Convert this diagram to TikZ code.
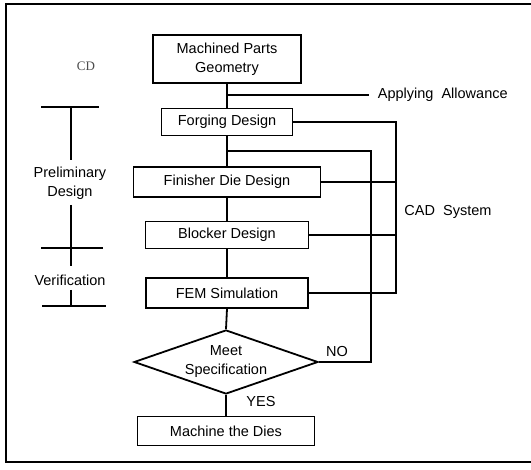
\documentclass[tikz,border=0pt]{standalone}
\usepackage{fontspec}
\setmainfont{Liberation Sans}
\newfontfamily\cdfont{Liberation Serif}
\usetikzlibrary{shapes.geometric}
\begin{document}
\begin{tikzpicture}[x=1pt,y=-1pt,
  line width=1.8pt,
  every node/.style={font=\fontsize{14.5}{19}\selectfont, inner sep=1pt},
  box/.style={draw, rectangle, align=center, line width=1.8pt},
  lbl/.style={align=center},
  dec/.style={draw, diamond, align=center, aspect=2.9, inner sep=0pt, line width=1.8pt}]
\useasboundingbox (0,0) rectangle (531,470);
% frame
\draw (531,4) -- (6,4) -- (6,462) -- (531,462);
% main boxes
\node[box, minimum width=148pt, minimum height=48pt] (mpg) at (227,59) {Machined Parts\\Geometry};
\node[box, minimum width=131pt, minimum height=27pt] (forg) at (227,122) {Forging Design};
\node[box, minimum width=187pt, minimum height=30pt] (fin) at (227,182) {Finisher Die Design};
\node[box, minimum width=163pt, minimum height=27pt] (blk) at (227,235) {Blocker Design};
\node[box, minimum width=162pt, minimum height=30pt] (fem) at (227,293) {FEM Simulation};
\node[dec, minimum width=184pt, minimum height=64pt] (dia) at (226,362) {Meet\\Specification};
\node[box, minimum width=177pt, minimum height=29pt] (mach) at (226,431) {Machine the Dies};
% vertical chain
\draw (mpg.south) -- (forg.north);
\draw (forg.south) -- (fin.north);
\draw (fin.south) -- (blk.north);
\draw (blk.south) -- (fem.north);
\draw (fem.south) -- (dia.north);
\draw (dia.south) -- (mach.north);
% applying allowance
\coordinate (ap) at (227,95);
\coordinate (apend) at (369,95);
\draw (ap) -- (apend);
\node[lbl, anchor=west] (aa) at (376,95) {Applying\ \ Allowance};
% CAD system loop
\coordinate (cadx) at (396,0);
\draw (forg.east) -- (forg.east -| cadx) -- (fem.east -| cadx) -- (fem.east);
\draw (fin.east) -- (fin.east -| cadx);
\draw (blk.east) -- (blk.east -| cadx);
\node[lbl] (cad) at (448,212) {CAD\ \ System};
% NO loop
\coordinate (br) at (227,151);
\coordinate (nox) at (371,0);
\draw (br) -- (br -| nox) -- (dia.east -| nox) -- (dia.east);
\node[lbl] (no) at (337,352) {NO};
\node[lbl] (yes) at (261,402) {YES};
% left timeline
\node[lbl, font=\cdfont\fontsize{13}{15}\selectfont, text=black!70] (cd) at (86,66) {CD};
\coordinate (t1l) at (41,107);
\coordinate (t1r) at (99,107);
\coordinate (t1) at (71,107);
\draw (t1l) -- (t1r);
\node[lbl] (prel) at (70,183) {Preliminary\\Design};
\draw (t1) -- (71,160) coordinate (p1);
\coordinate (p2) at (71,205);
\coordinate (p3) at (71,266);
\draw (p2) -- (p3);
\coordinate (t2l) at (41,248);
\coordinate (t2r) at (103,248);
\draw (t2l) -- (t2r);
\node[lbl] (ver) at (70,280) {Verification};
\coordinate (p4) at (71,290);
\coordinate (t3) at (71,306);
\draw (p4) -- (t3);
\coordinate (t3l) at (42,306);
\coordinate (t3r) at (106,306);
\draw (t3l) -- (t3r);
\end{tikzpicture}
\end{document}
